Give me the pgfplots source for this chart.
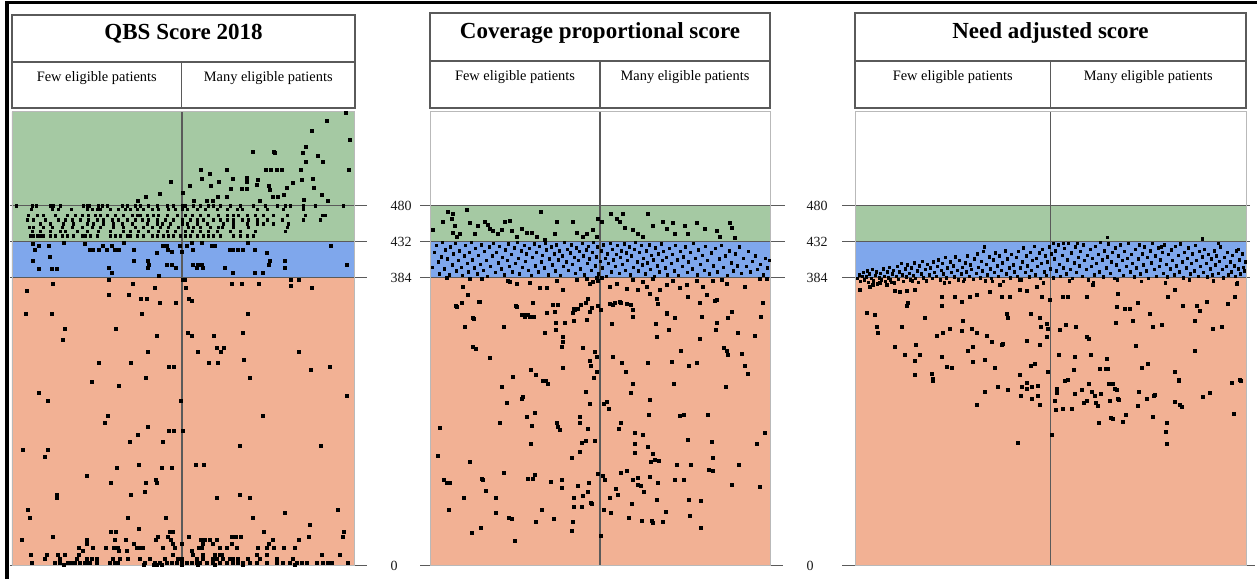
\documentclass[border=0pt]{standalone}
\usepackage{fontspec}
\setmainfont{Liberation Serif}
\usepackage{pgfplots}
\pgfplotsset{compat=1.18}
\definecolor{bgreen}{HTML}{A5C9A3}
\definecolor{bblue}{HTML}{7FA7EC}
\definecolor{bsalmon}{HTML}{F2B194}
\definecolor{lgray}{HTML}{5A5A5A}
\pgfplotsset{
  panel/.style={scale only axis, height=453.75pt, ymin=0, ymax=605, xmin=0,
    clip=false, ticks=none, axis on top,
    axis line style={draw=gray!55, line width=0.8pt}, anchor=south west},
  dots/.style={only marks, mark=square*, mark size=1.5pt, black},
  ddots/.style={only marks, mark=square*, mark size=1.25pt, black},
  band/.style={draw=none, fill=#1},
  hl/.style={lgray, line width=1.4pt, no marks},
  dv/.style={lgray, line width=1.4pt, no marks},
}
\newcommand{\tlab}{\fontsize{14}{15}\selectfont\color{black!90}}
\begin{document}
\begin{tikzpicture}[x=1pt,y=1pt]
\useasboundingbox (0,0) rectangle (1257,578);

% ---------------- Panel 1: QBS Score 2018 ----------------
\begin{axis}[panel, at={(12pt,12.5pt)}, width=342pt, xmax=342]
\addplot[band=bsalmon] coordinates {(0,0) (342,0) (342,384) (0,384) (0,0)};
\addplot[band=bblue] coordinates {(0,384) (342,384) (342,432) (0,432) (0,384)};
\addplot[band=bgreen] coordinates {(0,432) (342,432) (342,605) (0,605) (0,432)};
\addplot[dv] coordinates {(170,0) (170,605)};
\addplot[hl] coordinates {(-2,480) (355,480)};
\addplot[hl] coordinates {(-2,432) (355,432)};
\addplot[hl] coordinates {(-2,384) (355,384)};
\addplot[hl] coordinates {(-2,0) (355,0)};
% above 480
\addplot[dots] coordinates {(334,604) (315,593) (300,580) (338,568) (294,559) (291,550) (306,547) (241,552) (262,552) (263,550) (294,539) (311,538) (337,528) (289,528) (270,528) (265,528) (259,528) (254,528) (189,528) (215,528) (198,523) (190,516) (221,516) (235,517) (235,512) (207,512) (246,514) (281,510) (301,516) (290,514) (159,512) (178,507) (199,507) (245,508) (219,503) (230,503) (235,503) (257,507) (258,501) (275,504) (302,504) (148,496) (171,497) (206,492) (215,492) (261,492) (266,492) (272,495) (310,494) (134,492) (126,487) (182,487) (195,487) (201,487) (248,487) (292,488) (316,487)};
% green band rows
\addplot[ddots] coordinates {(4,480) (20,480) (24,480) (38,480) (40,480) (41,480) (48,480) (71,480) (75,480) (77,480) (86,480) (90,480) (95,480) (110,480) (115,480) (123,480) (128,480) (136,480) (145,480) (155,480) (161,480) (170,480) (173,480) (181,480) (188,480) (196,480) (201,480) (208,480) (218,480) (228,480) (241,480) (253,480) (265,480) (273,480) (278,480) (291,480) (303,480) (331,480)
(19,475) (40,475) (46,475) (59,475) (75,475) (80,475) (85,475) (88,475) (98,475) (106,475) (113,475) (118,475) (125,475) (131,475) (140,475) (146,475) (156,475) (163,475) (170,475) (175,475) (185,475) (193,475) (205,475) (215,475) (225,475) (230,475) (245,475) (255,475) (271,475) (291,475)
(16,467) (25,467) (31,467) (43,467) (55,467) (63,467) (70,467) (76,467) (83,467) (88,467) (95,467) (103,467) (111,467) (120,467) (125,467) (128,467) (135,467) (141,467) (146,467) (155,467) (165,467) (173,467) (180,467) (188,467) (196,467) (206,467) (215,467) (221,467) (226,467) (235,467) (243,467) (251,467) (261,467) (275,467) (293,467) (310,467) (313,467)
(15,461) (21,461) (33,461) (46,461) (53,461) (60,461) (68,461) (76,461) (85,461) (91,461) (100,461) (106,461) (115,461) (123,461) (130,461) (136,461) (145,461) (153,461) (161,461) (170,461) (178,461) (185,461) (191,461) (201,461) (208,461) (215,461) (221,461) (230,461) (236,461) (245,461) (255,461) (270,461) (291,461) (308,461)
(28,456) (38,456) (51,456) (61,456) (75,456) (81,456) (91,456) (101,456) (110,456) (120,456) (135,456) (145,456) (150,456) (158,456) (170,456) (175,456) (185,456) (195,456) (211,456) (221,456) (235,456) (245,456) (251,456) (261,456) (276,456)
(17,451) (21,451) (31,451) (40,451) (50,451) (60,451) (70,451) (80,451) (88,451) (101,451) (111,451) (123,451) (131,451) (140,451) (148,451) (156,451) (166,451) (176,451) (181,451) (188,451) (198,451) (206,451) (210,451) (221,451) (236,451) (275,451)
(20,446) (28,446) (38,446) (48,446) (53,446) (65,446) (75,446) (86,446) (98,446) (111,446) (118,446) (126,446) (136,446) (146,446) (155,446) (163,446) (173,446) (180,446) (188,446) (196,446) (205,446) (218,446) (228,446) (243,446) (273,446)
(18,440) (21,440) (25,440) (28,440) (31,440) (38,440) (43,440) (50,440) (55,440) (61,440) (70,440) (73,440) (78,440) (85,440) (98,440) (103,440) (108,440) (115,440) (118,440) (125,440) (131,440) (140,440) (145,440) (151,440) (156,440) (161,440) (168,440) (173,440) (178,440) (185,440) (191,440) (196,440) (201,440) (208,440) (221,440) (228,440) (235,440) (241,440)};
% blue band
\addplot[dots] coordinates {(21,429) (23,421) (27,426) (37,426) (52,430) (73,429) (78,421) (81,421) (87,421) (91,426) (95,421) (100,426) (103,421) (107,421) (112,430) (122,421) (145,417) (151,426) (155,426) (156,421) (160,419) (168,426) (170,419) (175,426) (180,430) (181,421) (190,430) (200,426) (203,426) (218,421) (221,421) (226,421) (231,421) (236,430) (243,421) (255,417) (319,426) (21,406) (38,412) (27,396) (40,396) (45,396) (122,406) (136,406) (137,401) (136,397) (155,401) (160,401) (164,397) (181,401) (186,401) (190,401) (191,397) (213,397) (221,391) (243,391) (251,391) (258,406) (257,401) (273,406) (273,397) (97,397) (100,391) (147,387) (185,397) (335,401)};
% salmon
\addplot[dots] coordinates {(41,376) (97,381) (121,376) (143,371) (171,381) (173,381) (174,371) (220,376) (230,376) (247,376) (279,381) (287,381) (279,373) (300,371) (15,366) (97,361) (117,361) (129,356) (135,356) (148,351) (164,351) (177,356) (180,353) (14,336) (40,336) (130,336) (236,336) (53,316) (104,316) (51,301) (145,306) (176,311) (180,306) (202,306) (231,311) (136,285) (186,285) (205,291) (212,291) (209,285) (287,285) (232,275) (87,270) (119,270) (197,270) (206,270) (157,265) (162,265) (299,261) (318,265) (134,250) (238,250) (80,245) (107,240) (27,231) (36,220) (169,220) (335,227) (96,200) (93,190) (251,200) (136,185) (157,180) (162,180) (171,180) (126,175) (118,165) (151,165) (228,160) (309,160) (11,155) (36,155) (33,145)
(105,130) (127,135) (150,130) (160,130) (184,135) (192,135) (75,120) (99,110) (134,110) (144,114) (145,110) (133,99) (45,95) (45,90) (119,95) (228,95) (205,90) (238,90) (16,75) (18,64) (116,64) (154,64) (241,64) (273,70) (326,75) (127,49) (298,54) (99,45) (104,45) (158,45) (161,45) (252,45) (332,45) (331,39) (10,34) (41,39) (75,34) (103,34) (114,34) (144,34) (146,39) (156,39) (159,34) (177,39) (189,34) (193,34) (198,34) (205,34) (220,39) (224,39) (229,39) (261,34) (287,34) (297,39)
(67,24) (71,20) (75,29) (81,24) (94,24) (102,24) (106,24) (107,20) (115,20) (122,29) (125,24) (127,24) (131,24) (151,24) (161,29) (163,24) (170,29) (180,20) (181,14) (187,24) (190,24) (191,29) (201,29) (208,24) (215,24) (220,29) (225,24) (246,24) (255,24) (257,29) (262,24) (272,24) (283,24)
(19,14) (35,14) (46,14) (53,14) (67,14) (161,14) (167,9) (170,9) (191,14) (203,14) (208,14) (210,14) (221,9) (236,9) (245,14) (255,14) (310,14) (328,14)
(33,9) (48,9) (65,9) (75,9) (80,9) (85,9) (101,9) (108,9) (116,9) (128,9) (138,9) (153,9) (166,9) (185,9) (191,9) (201,9) (205,9) (211,9) (218,9) (226,9) (248,9) (265,9) (281,9)
(20,4) (43,4) (48,4) (56,4) (60,4) (63,4) (68,4) (73,4) (76,4) (78,4) (85,4) (98,4) (103,4) (106,4) (133,4) (143,4) (148,4) (155,4) (160,4) (165,4) (170,4) (175,4) (180,4) (185,4) (188,4) (195,4) (201,4) (208,4) (215,4) (221,4) (226,4) (231,4) (238,4) (245,4) (255,4) (265,4) (271,4) (278,4) (285,4) (290,4) (295,4) (305,4) (311,4) (316,4) (320,4) (336,4)
(52,1) (132,1) (142,1) (145,1) (150,1) (170,1) (186,1) (203,1) (231,1) (283,1)};
\node[anchor=west, font=\tlab] at (axis cs:375,480) {480};
\node[anchor=west, font=\tlab] at (axis cs:375,432) {432};
\node[anchor=west, font=\tlab] at (axis cs:375,384) {384};
\node[anchor=west, font=\tlab] at (axis cs:375,0) {0};
\end{axis}

% ---------------- Panel 2: Coverage proportional score ----------------
\begin{axis}[panel, at={(430pt,12.5pt)}, width=340pt, xmax=340]
\addplot[band=bsalmon] coordinates {(0,0) (340,0) (340,384) (0,384) (0,0)};
\addplot[band=bblue] coordinates {(0,384) (340,384) (340,432) (0,432) (0,384)};
\addplot[band=bgreen] coordinates {(0,432) (340,432) (340,480) (0,480) (0,432)};
\addplot[dv] coordinates {(170,0) (170,605)};
\addplot[hl] coordinates {(-10,480) (355,480)};
\addplot[hl] coordinates {(-10,432) (355,432)};
\addplot[hl] coordinates {(-10,384) (355,384)};
\addplot[hl] coordinates {(-10,0) (353,0)};
% green band
\addplot[dots] coordinates {(37,475) (18,472) (23,469) (22,463) (25,453) (13,458) (3,448) (23,444) (27,439) (30,442) (40,457) (45,443) (48,453) (55,459) (58,454) (60,449) (63,446) (68,443) (72,448) (75,459) (80,460) (82,446) (87,439) (92,449) (97,444) (102,444) (107,439) (111,472) (115,435) (127,458) (125,443) (143,459) (147,444) (153,439) (157,443) (163,448) (168,463) (172,458) (167,439) (181,469) (187,463) (193,469) (190,458) (195,450) (203,448) (208,443) (213,439) (218,469) (223,453) (233,458) (237,449) (243,457) (245,443) (255,453) (258,443) (267,457) (275,449) (287,447) (290,439) (300,457) (302,450) (305,437)};
% blue band
\addplot[ddots] coordinates {(2,398) (4,418) (6,427) (8,405) (9,389) (11,412) (12,431) (14,396) (15,421) (17,409) (19,388) (20,425) (22,401) (23,416) (25,430) (26,393) (28,407) (29,420) (31,398) (32,387) (34,413) (35,427) (37,403) (38,392) (39,418)
(41,431) (42,408) (44,397) (45,423) (47,389) (48,414) (50,402) (51,428) (53,394) (54,419) (56,407) (57,386) (59,425) (60,399) (62,413) (63,430) (65,391) (66,418) (68,404) (69,426) (71,396) (72,411) (74,388) (75,421) (77,407) (78,429) (79,399)
(81,415) (82,392) (84,424) (85,403) (87,431) (88,410) (89,389) (91,420) (92,398) (94,427) (95,406) (96,416) (98,394) (99,423) (101,387) (102,411) (104,429) (105,400) (106,418) (108,392) (109,426) (111,405) (112,414) (114,397) (115,430) (116,421) (118,388) (119,409)
(121,425) (122,401) (124,416) (125,393) (126,428) (128,408) (129,420) (130,387) (132,413) (133,399) (134,431) (136,405) (137,422) (138,394) (140,417) (141,428) (142,402) (144,411) (145,390) (146,424) (148,407) (149,419) (150,396) (152,430) (153,413) (154,388) (156,421) (157,403) (158,426) (159,409)
(161,394) (162,418) (163,431) (165,400) (166,412) (167,425) (168,389) (170,406) (171,420) (172,397) (173,428) (175,410) (176,386) (177,416) (178,403) (180,430) (181,392) (182,422) (183,408) (185,399) (186,415) (187,427) (189,390) (190,411) (191,420) (192,402) (194,429) (195,394) (196,417) (197,407) (199,425)
(200,388) (201,413) (203,398) (204,422) (205,431) (207,405) (208,393) (209,418) (211,427) (212,401) (213,410) (215,389) (216,420) (217,404) (219,428) (220,395) (221,414) (223,408) (224,386) (225,424) (227,400) (228,416) (229,392) (231,429) (232,407) (233,419) (235,397) (236,411) (237,388) (239,423)
(241,403) (242,415) (244,393) (245,427) (247,408) (248,387) (250,419) (252,399) (253,412) (255,425) (257,391) (258,405) (260,418) (262,396) (263,430) (265,410) (267,388) (268,421) (270,402) (272,414) (274,394) (275,426) (277,407) (279,389)
(281,417) (283,400) (285,423) (287,392) (289,409) (291,427) (293,398) (295,413) (297,387) (299,420) (301,404) (303,393) (305,416) (307,400) (309,425) (311,390) (313,410) (316,399) (318,419) (320,392) (322,406) (325,413) (327,395) (330,402) (333,388) (335,410) (337,397) (339,407)};
% salmon upper
\addplot[dots] coordinates {(17,384) (40,382) (52,382) (78,380) (80,379) (87,376) (100,377) (110,370) (117,371) (127,380) (133,368) (147,381) (157,383) (160,376) (163,379) (167,384) (168,380) (172,384) (180,372) (187,376) (197,369) (203,381) (208,368) (213,379) (217,372) (223,382) (230,368) (237,374) (243,380) (250,370) (257,374) (267,380) (273,372) (283,380) (292,381) (297,376) (315,372) (330,382) (337,382) (38,361) (33,372) (50,352) (27,345) (87,345) (95,334) (123,348) (145,341) (158,356) (183,348) (190,352) (203,341) (220,363) (227,356) (237,336) (258,359) (270,350) (277,361) (287,354) (302,339) (333,350) (43,330) (100,332) (245,330) (157,328)};
% salmon lower
\addplot[dots] coordinates {(26,346) (32,350) (49,352) (86,346) (92,335) (95,332) (98,335) (104,332) (103,350) (117,337) (125,338) (128,348) (126,324) (135,324) (144,326) (143,337) (144,343) (148,342) (151,348) (156,350) (160,338) (162,344) (168,346) (171,341) (180,349) (185,351) (191,351) (197,349) (201,348) (203,332) (182,322) (226,322) (228,349) (237,337) (245,330) (272,332) (285,353) (287,324) (286,314) (298,330) (308,310) (325,307) (331,332) (333,351) (35,318) (44,329) (74,319) (115,310) (126,314) (133,305) (133,299) (132,292) (153,290) (165,285) (167,278) (160,273) (161,267) (183,278) (192,270) (196,258) (218,271) (227,305) (239,315) (251,286) (242,272) (259,266) (267,270) (270,303) (294,290) (297,287) (298,281) (312,282) (315,266) (318,256) (296,239) (43,292) (46,289) (60,277) (101,261) (106,254) (83,252) (113,246) (116,247) (118,243) (133,264) (164,250) (167,259) (156,232) (160,216) (174,216) (177,218) (179,209) (201,231) (203,242) (220,221) (244,242) (72,238) (77,217) (92,222) (93,225) (97,198) (105,204) (102,187) (70,190) (127,190) (128,185) (130,181) (150,199) (150,190) (158,182) (165,166) (156,167) (152,164) (150,152) (142,144) (101,162) (10,184) (8,146) (40,138) (189,182) (191,191) (205,177) (213,174) (205,163) (205,151) (218,159) (223,149) (221,138) (225,141) (229,140) (219,201) (250,200) (254,201) (278,201) (258,168) (282,165) (283,144) (247,135) (261,134) (279,128) (283,127) (309,134) (327,163) (335,177) (74,124) (52,116) (53,114) (56,100) (34,91) (14,114) (17,111) (20,111) (19,74) (66,91) (66,70) (79,64) (82,62) (42,44) (51,50) (85,33) (98,116) (103,116) (105,121) (112,74) (121,112) (124,62) (132,104) (132,115) (106,59) (142,47) (143,59) (144,78) (144,91) (148,107) (152,78) (153,93) (158,99) (159,111) (161,84) (162,83) (168,123) (173,120) (175,114) (174,75) (181,70) (180,91) (186,102) (188,94) (191,124) (197,126) (202,82) (199,64) (203,115) (208,117) (208,108) (211,106) (214,98) (220,119) (228,111) (227,88) (236,72) (245,114) (254,115) (259,88) (271,86) (260,67) (271,51) (212,60) (222,60) (223,57) (233,59) (171,40) (302,108) (330,105)};
\end{axis}

% ---------------- Panel 3: Need adjusted score ----------------
\begin{axis}[panel, at={(855pt,12.5pt)}, width=391pt, xmax=391]
\addplot[band=bsalmon] coordinates {(0,0) (391,0) (391,384) (0,384) (0,0)};
\addplot[band=bblue] coordinates {(0,384) (391,384) (391,432) (0,432) (0,384)};
\addplot[band=bgreen] coordinates {(0,432) (391,432) (391,480) (0,480) (0,432)};
\addplot[dv] coordinates {(195.5,0) (195.5,605)};
\addplot[hl] coordinates {(-13,480) (395,480)};
\addplot[hl] coordinates {(-13,432) (395,432)};
\addplot[hl] coordinates {(-13,384) (395,384)};
\addplot[hl] coordinates {(-13,0) (400,0)};
% dense band
\addplot[ddots] coordinates {(2,383) (4,388) (5,379) (7,386) (8,391) (9,381) (11,385) (12,393) (13,378) (14,389) (16,383) (17,395) (18,380) (20,387) (21,392) (22,376) (24,384) (25,390) (26,381) (28,396) (29,386) (30,379) (32,392) (33,384) (34,398) (35,381) (37,389) (38,394) (39,377)
(41,386) (42,399) (43,382) (44,392) (46,403) (47,388) (48,379) (50,396) (51,385) (52,401) (54,390) (55,381) (56,397) (58,387) (59,404) (60,383) (62,393) (63,378) (64,400) (66,389) (67,406) (68,384) (70,395) (71,380) (72,402) (74,388) (75,397) (77,383) (78,405) (79,391)
(81,386) (82,399) (83,408) (85,381) (86,394) (87,403) (88,389) (90,411) (91,384) (92,397) (94,378) (95,405) (96,391) (98,400) (99,385) (100,412) (102,394) (103,381) (104,407) (106,389) (107,398) (108,379) (110,404) (111,392) (112,413) (114,386) (115,401) (116,395) (118,382) (119,409)
(121,390) (122,416) (123,398) (125,384) (126,406) (127,393) (128,419) (130,380) (131,402) (132,388) (134,412) (135,396) (136,383) (138,408) (139,391) (140,417) (142,400) (143,386) (144,413) (146,394) (147,404) (148,379) (150,420) (151,389) (152,409) (154,397) (155,384) (156,415) (158,401) (159,392)
(161,411) (162,386) (163,419) (165,397) (166,381) (167,405) (168,424) (170,391) (171,413) (172,400) (174,385) (175,418) (176,394) (177,407) (179,426) (180,388) (181,410) (182,399) (184,417) (185,383) (186,403) (187,422) (189,392) (190,413) (191,387) (192,405) (194,425) (195,396) (196,416) (198,384) (199,409)
(200,420) (201,393) (203,428) (204,402) (205,386) (207,414) (208,397) (209,423) (211,389) (212,408) (213,430) (215,395) (216,417) (217,383) (219,404) (220,425) (221,391) (223,411) (224,400) (225,419) (227,386) (228,428) (229,407) (231,395) (232,414) (233,381) (235,422) (236,399) (237,410) (239,388)
(240,426) (241,403) (243,415) (244,392) (245,431) (247,408) (248,385) (249,420) (251,397) (252,412) (253,429) (255,390) (256,405) (257,418) (259,383) (260,424) (261,401) (263,413) (264,394) (265,428) (267,407) (268,387) (269,419) (271,399) (272,410) (273,430) (275,392) (276,415) (277,403) (279,385)
(280,422) (281,397) (283,409) (284,428) (285,389) (287,416) (288,401) (289,425) (291,393) (292,411) (293,383) (295,420) (296,404) (297,430) (299,395) (300,413) (301,386) (303,424) (304,399) (305,408) (307,418) (308,390) (309,428) (311,402) (312,385) (313,415) (315,396) (316,421) (317,407) (319,388)
(320,426) (321,400) (323,414) (324,392) (325,429) (327,405) (328,384) (329,418) (331,397) (332,410) (333,424) (335,389) (336,403) (337,416) (339,393) (340,427) (341,407) (343,386) (344,419) (345,399) (347,412) (348,391) (349,422) (351,403) (352,385) (353,415) (355,396) (356,409) (357,388) (359,420)
(360,401) (361,413) (363,390) (364,406) (365,425) (367,395) (368,384) (369,411) (371,399) (372,418) (373,388) (375,405) (376,392) (377,414) (379,400) (380,386) (381,420) (383,396) (384,408) (385,389) (387,415) (388,398) (389,393) (390,405)
(36,378) (57,380) (89,377) (109,382) (137,379) (164,381) (188,377) (214,380) (238,378) (262,381) (286,379) (310,377) (334,381) (358,380) (382,378)
(252,438) (347,436) (129,425) (198,430) (208,430) (222,430) (306,425) (363,430) (383,422) (387,416)};
% salmon upper
\addplot[dots] coordinates {(5,368) (15,372) (18,375) (25,377) (32,374) (40,367) (45,365) (52,367) (60,368) (53,350) (52,347) (87,358) (87,347) (100,358) (107,352) (115,359) (122,361) (135,365) (145,374) (147,358) (155,359) (165,368) (172,367) (182,372) (187,358) (195,354) (208,359) (213,359) (232,358) (238,374) (262,345) (263,363) (275,342) (283,350) (295,336) (313,358) (320,368) (328,347) (342,346) (345,340) (352,352) (373,349) (380,359) (382,376)
(12,337) (20,335) (22,318) (23,310) (47,318) (70,331) (40,292) (50,281) (61,295) (60,273) (65,281) (60,255) (77,256) (78,249) (82,307) (88,310) (95,316) (107,313) (108,327) (117,316) (118,292) (122,310) (132,307) (137,298) (147,294) (152,336) (153,330) (148,296) (130,274) (118,272) (113,286) (87,279) (92,265) (97,264) (140,264) (165,255) (172,300) (176,336) (185,330) (186,318) (192,322) (193,316) (192,305) (185,295) (180,269) (176,267) (193,258) (204,281) (205,315) (211,321) (221,319) (213,248) (210,246) (219,261) (220,278) (232,305) (234,302) (236,281) (252,276) (253,263) (245,263) (251,263) (261,324) (270,343) (278,327) (281,293) (287,264) (293,269) (298,319) (307,321) (320,258) (324,248) (340,287) (340,326) (358,316) (367,318) (385,248)};
% salmon lower
\addplot[dots] coordinates {(78,247) (143,239) (153,235) (130,232) (122,215) (167,238) (172,236) (177,239) (183,240) (172,244) (166,226) (177,223) (183,227) (185,215) (163,164) (197,174) (202,236) (202,230) (200,220) (201,208) (208,209) (217,209) (227,234) (220,229) (234,243) (237,232) (240,226) (246,229) (232,220) (229,217) (241,217) (243,213) (255,220) (254,243) (258,243) (260,236) (262,235) (263,222) (264,221) (244,190) (256,197) (258,196) (268,192) (271,201) (283,213) (284,232) (292,223) (299,226) (300,228) (298,198) (312,190) (311,178) (312,163) (320,218) (325,215) (327,212) (348,225) (355,231) (379,203) (377,244) (386,246) (324,247)};
\node[anchor=west, font=\tlab] at (axis cs:-52,480) {480};
\node[anchor=west, font=\tlab] at (axis cs:-52,432) {432};
\node[anchor=west, font=\tlab] at (axis cs:-52,384) {384};
\node[anchor=west, font=\tlab] at (axis cs:-52,0) {0};
\end{axis}

% ---------------- header boxes ----------------
\begin{scope}[lgray, line width=1.4pt]
\draw (12,563) rectangle (355,470);
\draw (12,516) -- (355,516);
\draw (181.5,516) -- (181.5,470);
\draw (430,565) rectangle (770,470);
\draw (430,517) -- (770,517);
\draw (600,517) -- (600,470);
\draw (855,565) rectangle (1246,470);
\draw (855,517) -- (1246,517);
\draw (1050.5,517) -- (1050.5,470);
\end{scope}
\begin{scope}[every node/.style={anchor=base, text=black}]
\node[font=\bfseries\fontsize{23}{26}\selectfont] at (183.5,538) {QBS Score 2018};
\node[font=\bfseries\fontsize{23}{26}\selectfont] at (600,539) {Coverage proportional score};
\node[font=\bfseries\fontsize{23}{26}\selectfont] at (1050.5,539) {Need adjusted score};
\node[font=\fontsize{14.4}{16}\selectfont] at (96.75,496) {Few eligible patients};
\node[font=\fontsize{14.4}{16}\selectfont] at (268.25,496) {Many eligible patients};
\node[font=\fontsize{14.4}{16}\selectfont] at (515,497) {Few eligible patients};
\node[font=\fontsize{14.4}{16}\selectfont] at (685,497) {Many eligible patients};
\node[font=\fontsize{14.4}{16}\selectfont] at (952.75,497) {Few eligible patients};
\node[font=\fontsize{14.4}{16}\selectfont] at (1148.25,497) {Many eligible patients};
\end{scope}
% outer frame
\draw[black, line width=4pt] (7,-10) -- (7,577);
\draw[black, line width=3pt] (5,575.5) -- (1270,575.5);
\end{tikzpicture}
\end{document}
